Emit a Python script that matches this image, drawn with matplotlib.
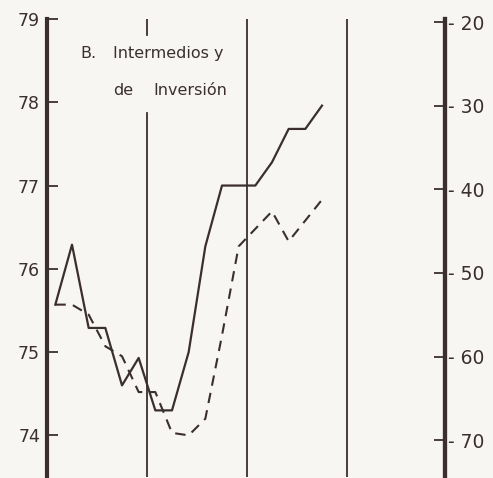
import numpy as np
import matplotlib.pyplot as plt

# bimonthly observations over four years (x in years, midpoints of each 2-month period)
periods = np.arange(17)
solid_values = [75.57, 76.29, 75.29, 75.29, 74.60, 74.93, 74.30, 74.30, 75.00,
                76.27, 77.00, 77.00, 77.00, 77.28, 77.68, 77.68, 77.96]
dashed_values = [75.57, 75.57, 75.45, 75.07, 74.95, 74.52, 74.52, 74.03, 74.00,
                 74.20, 75.20, 76.27, 76.48, 76.69, 76.33, 76.58, 76.83]
left_ticks = [74, 75, 76, 77, 78, 79]
right_ticks = [-20, -30, -40, -50, -60, -70]
year_marks = [1, 2, 3]

paper = "#f7f6f3"
ink = "#3b2e30"

x = periods / 6 + 1 / 12

fig = plt.figure(figsize=(4.93, 4.78), dpi=100, facecolor=paper)
ax = fig.add_axes([47 / 493, 1 / 478, (445 - 47) / 493, (477 - 19) / 478])
ax.set_facecolor(paper)

ax.plot(x, solid_values, color=ink, lw=1.6)
ax.plot(x, dashed_values, color=ink, lw=1.5, dashes=(5, 3.5))

# year separators, the first one broken for the title text
ax.axvline(year_marks[0], ymin=(78.81 - 73.5) / 5.5, ymax=1, color=ink, lw=1.3)
ax.axvline(year_marks[0], ymin=0, ymax=(77.87 - 73.5) / 5.5, color=ink, lw=1.3)
for yr in year_marks[1:]:
    ax.axvline(yr, color=ink, lw=1.3)

ax.set_xlim(0, 3.98)
ax.set_ylim(73.5, 79)
ax.set_xticks([])
ax.set_yticks(left_ticks)
ax.set_yticklabels([str(t) for t in left_ticks])
ax.tick_params(axis="y", direction="in", length=8, width=1.3, color=ink,
               labelsize=12.5, labelcolor=ink, pad=5)

for s in ["top", "bottom"]:
    ax.spines[s].set_visible(False)
ax.spines["left"].set_linewidth(3)
ax.spines["left"].set_color(ink)
ax.spines["right"].set_linewidth(3)
ax.spines["right"].set_color(ink)

ax2 = ax.twinx()
ax2.set_ylim(-74.4, -19.64)
ax2.set_yticks(right_ticks)
ax2.set_yticklabels(["- " + str(-t) for t in right_ticks])
ax2.tick_params(axis="y", direction="in", length=8, width=1.3, color=ink,
                labelsize=13.5, labelcolor=ink, pad=2)
for s in ["top", "bottom", "left"]:
    ax2.spines[s].set_visible(False)
ax2.spines["right"].set_linewidth(3)
ax2.spines["right"].set_color(ink)

kw = dict(fontsize=11.5, color=ink, va="center")
ax.text(0.33, 78.59, "B.", **kw)
ax.text(0.66, 78.59, "Intermedios y", **kw)
ax.text(0.66, 78.14, "de", **kw)
ax.text(1.06, 78.14, "Inversión", **kw)

fig.savefig("out.png", dpi=100, facecolor=paper)
